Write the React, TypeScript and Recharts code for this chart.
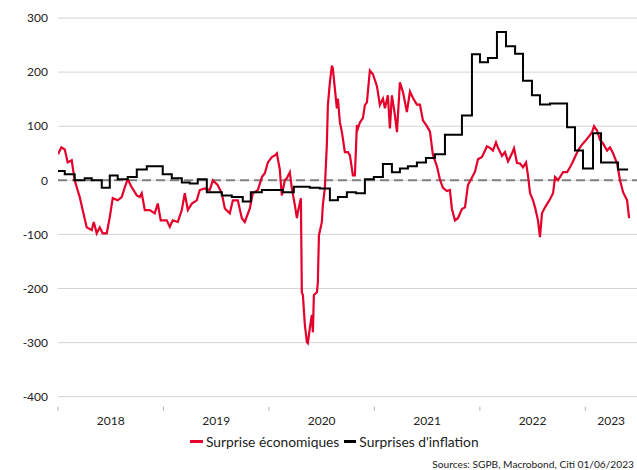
import { LineChart, Line, XAxis, YAxis, CartesianGrid, ReferenceLine } from 'recharts';

// Citi economic surprise index (decimal year, value)
const econDates = [
  2018.000, 2018.032, 2018.064, 2018.092, 2018.130, 2018.158, 2018.206, 2018.234, 2018.272, 2018.320,
  2018.339, 2018.367, 2018.396, 2018.424, 2018.462, 2018.491, 2018.519, 2018.566, 2018.604, 2018.633,
  2018.661, 2018.699, 2018.747, 2018.775, 2018.794, 2018.823, 2018.870, 2018.917, 2018.946, 2018.974,
  2019.031, 2019.060, 2019.088, 2019.136, 2019.174, 2019.202, 2019.231, 2019.269, 2019.316, 2019.344,
  2019.392, 2019.439, 2019.468, 2019.515, 2019.553, 2019.582, 2019.629, 2019.658, 2019.705, 2019.743,
  2019.771, 2019.819, 2019.847, 2019.895, 2019.933, 2019.961, 2019.990, 2020.028, 2020.056, 2020.075,
  2020.103, 2020.122, 2020.151, 2020.170, 2020.198, 2020.217, 2020.246, 2020.265, 2020.274, 2020.303,
  2020.312, 2020.322, 2020.341, 2020.360, 2020.369, 2020.388, 2020.407, 2020.417, 2020.426, 2020.455,
  2020.464, 2020.474, 2020.502, 2020.511, 2020.530, 2020.549, 2020.559, 2020.578, 2020.597, 2020.606,
  2020.625, 2020.644, 2020.654, 2020.673, 2020.692, 2020.720, 2020.749, 2020.768, 2020.796, 2020.815,
  2020.834, 2020.844, 2020.863, 2020.891, 2020.910, 2020.929, 2020.957, 2020.986, 2021.024, 2021.052,
  2021.081, 2021.100, 2021.128, 2021.147, 2021.166, 2021.195, 2021.214, 2021.242, 2021.271, 2021.308,
  2021.337, 2021.366, 2021.403, 2021.432, 2021.460, 2021.498, 2021.527, 2021.555, 2021.593, 2021.622,
  2021.650, 2021.688, 2021.716, 2021.735, 2021.764, 2021.792, 2021.830, 2021.859, 2021.887, 2021.925,
  2021.954, 2021.982, 2022.020, 2022.049, 2022.067, 2022.096, 2022.124, 2022.153, 2022.172, 2022.210,
  2022.238, 2022.267, 2022.305, 2022.324, 2022.352, 2022.381, 2022.409, 2022.438, 2022.457, 2022.476,
  2022.504, 2022.523, 2022.551, 2022.570, 2022.589, 2022.618, 2022.665, 2022.694, 2022.713, 2022.741,
  2022.789, 2022.827, 2022.855, 2022.874, 2022.902, 2022.931, 2022.950, 2022.969, 2022.997, 2023.026,
  2023.064, 2023.083, 2023.111, 2023.140, 2023.168, 2023.206, 2023.234, 2023.263, 2023.301, 2023.329,
  2023.358, 2023.396, 2023.415,
];
const econValues = [
  48, 61, 57, 33, 37, 0, -31, -55, -87, -92,
  -77, -98, -87, -98, -98, -68, -33, -37, -31, -13,
  2, -13, -28, -31, -24, -55, -55, -61, -43, -74,
  -74, -86, -74, -77, -55, -24, -55, -43, -37, -18,
  -15, -18, 0, -9, -24, -52, -61, -37, -37, -70,
  -77, -52, -24, -18, 6, 13, 33, 43, 46, 50,
  20, -28, 0, 4, 15, -15, -46, -70, -59, -33,
  -207, -212, -268, -299, -301, -273, -249, -281, -212, -207,
  -188, -102, -77, -46, -15, 65, 139, 181, 212, 207,
  170, 133, 151, 107, 89, 52, 52, 46, 9, 9,
  102, 96, 107, 115, 139, 144, 203, 196, 174, 139,
  151, 133, 157, 96, 157, 120, 89, 181, 163, 126,
  164, 152, 140, 140, 111, 100, 90, 47, 26, 1,
  -14, -20, -18, -53, -74, -70, -53, -50, -9, 5,
  16, 39, 43, 55, 63, 60, 55, 70, 60, 45,
  52, 35, 50, 59, 32, 31, 24, 33, 8, -24,
  -37, -50, -74, -105, -61, -50, -35, -24, 6, 0,
  15, 15, 24, 31, 43, 55, 61, 66, 72, 79,
  89, 100, 92, 74, 68, 55, 61, 50, 31, 0,
  -22, -37, -70,
];

// Citi inflation surprise index, monthly steps
const inflDates = [
  2018.000, 2018.064, 2018.158, 2018.253, 2018.320, 2018.415, 2018.491, 2018.566, 2018.661, 2018.747,
  2018.842, 2018.993, 2019.079, 2019.174, 2019.250, 2019.325, 2019.411, 2019.553, 2019.648, 2019.752,
  2019.828, 2019.933, 2020.132, 2020.236, 2020.388, 2020.483, 2020.578, 2020.654, 2020.739, 2020.825,
  2020.910, 2020.995, 2021.081, 2021.166, 2021.242, 2021.318, 2021.403, 2021.489, 2021.574, 2021.669,
  2021.830, 2021.925, 2022.001, 2022.077, 2022.162, 2022.248, 2022.334, 2022.409, 2022.494, 2022.570,
  2022.665, 2022.827, 2022.902, 2022.978, 2023.073, 2023.149, 2023.310, 2023.405,
];
const inflValues = [
  17, 11, 0, 4, 0, -14, 9, 2, 6, 20,
  26, 11, 4, -4, -6, 2, -22, -28, -31, -39,
  -22, -18, -22, -12, -14, -15, -37, -31, -22, -24,
  2, 6, 30, 15, 22, 26, 33, 41, 48, 84,
  120, 233, 218, 226, 274, 248, 234, 184, 157, 140,
  142, 98, 55, 22, 87, 33, 20, 20,
];

const yTicks = [-400, -300, -200, -100, 0, 100, 200, 300];
const yearLabels = ['2018', '2019', '2020', '2021', '2022', '2023'];
const xEnd = 2023.49;

const econData = econDates.map((t, i) => ({ t, v: econValues[i] }));
const inflData = inflDates.map((t, i) => ({ t, v: inflValues[i] }));

// year boundaries get a tick mark, year middles get the label
const xTicks: number[] = [];
yearLabels.forEach((y) => {
  const start = Number(y);
  xTicks.push(start, (start + Math.min(start + 1, xEnd)) / 2);
});

const FONT = 'Lato, "Open Sans", sans-serif';
const RED = '#e4002b';

function XTick(props: any) {
  const { x, y, payload } = props;
  const v = payload.value as number;
  if (Number.isInteger(v)) {
    return <line x1={x} x2={x} y1={y + 10} y2={y + 14} stroke="#b0b0b0" strokeWidth={1} />;
  }
  return (
    <text x={x} y={y + 28} textAnchor="middle" fontSize={12} fill="#222" fontFamily={FONT}>
      {Math.floor(v)}
    </text>
  );
}

export default function App() {
  return (
    <div style={{ position: 'absolute', left: 0, top: 0, width: 637, height: 470, overflow: 'hidden', background: '#fff', fontFamily: FONT }}>
      <LineChart width={637} height={470} margin={{ top: 18, right: 0, left: 0, bottom: 33.3 }}>
        <CartesianGrid vertical={false} stroke="#d4d4d4" strokeWidth={1} />
        <XAxis
          type="number"
          dataKey="t"
          domain={[2018, xEnd]}
          ticks={xTicks}
          interval={0}
          tick={<XTick />}
          tickSize={0}
          tickMargin={0}
          axisLine={false}
          tickLine={false}
          height={40}
          allowDataOverflow
        />
        <YAxis
          domain={[-400, 300]}
          ticks={yTicks}
          interval={0}
          width={58}
          tickSize={0}
          tickMargin={10}
          axisLine={false}
          tickLine={false}
          tick={{ fontSize: 12, fill: '#222', fontFamily: FONT }}
        />
        <ReferenceLine y={0} stroke="#808080" strokeWidth={2} strokeDasharray="9 5" />
        <Line
          data={econData}
          dataKey="v"
          type="linear"
          stroke={RED}
          strokeWidth={2.2}
          dot={false}
          isAnimationActive={false}
        />
        <Line
          data={inflData}
          dataKey="v"
          type="stepAfter"
          stroke="#000"
          strokeWidth={2}
          dot={false}
          isAnimationActive={false}
        />
      </LineChart>
      <div style={{ position: 'absolute', left: 190, top: 433, display: 'flex', alignItems: 'center', fontSize: 13.8, color: '#222', whiteSpace: 'nowrap' }}>
        <span style={{ display: 'inline-block', width: 13, height: 3, background: RED, marginRight: 3 }} />
        <span>Surprise économiques</span>
        <span style={{ display: 'inline-block', width: 12, height: 3, background: '#000', marginLeft: 5, marginRight: 3 }} />
        <span>Surprises d'inflation</span>
      </div>
      <div style={{ position: 'absolute', right: 3, top: 458, fontSize: 10.2, color: '#222', whiteSpace: 'nowrap' }}>
        Sources: SGPB, Macrobond, Citi 01/06/2023
      </div>
    </div>
  );
}
